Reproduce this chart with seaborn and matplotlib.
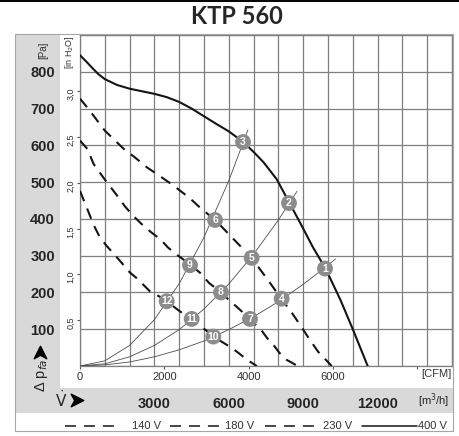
import numpy as np
import pandas as pd
import matplotlib.pyplot as plt
import seaborn as sns
from matplotlib.patches import Rectangle
from matplotlib.lines import Line2D
from matplotlib.path import Path

# Fan curves: flow in m3/h, pressure in Pa
v400_x = [0, 250, 500, 750, 1000, 1500, 2000, 2500, 3000, 3500, 4000, 4500, 5000, 5500, 6000,
          6600, 7000, 7400, 7930, 8450, 8950, 9400, 9900, 10500, 11000, 11600]
v400_y = [845, 828, 810, 793, 780, 764, 754, 747, 740, 731, 718, 700, 679, 658, 638,
          608, 582, 554, 508, 443, 380, 322, 265, 180, 100, 0]

v230_x = [0, 340, 1000, 1800, 2200, 2700, 3100, 3700, 4400, 4850, 5450, 6050, 6920, 7660, 8130, 8550, 8870, 9270, 9600, 10150]
v230_y = [727, 699, 640, 588, 568, 540, 522, 494, 458, 430, 397, 355, 294, 226, 182, 144, 112, 71, 39, 0]

v180_x = [0, 300, 550, 1000, 1500, 1800, 2150, 2500, 2900, 3250, 3550, 3900, 4435, 4850, 5200, 5685, 6000, 6450, 6850, 7350, 7600, 7850, 8050, 8350, 8780]
v180_y = [613, 590, 549, 507, 463, 435, 408, 385, 362, 344, 322, 303, 276, 253, 226, 200, 180, 153, 128, 94, 71, 53, 35, 16, 0]

v140_x = [0, 270, 540, 800, 1080, 1350, 1610, 2000, 2300, 2820, 3230, 3495, 4000, 4502, 5100, 5376, 6100, 6400, 6800, 7130]
v140_y = [476, 431, 385, 350, 326, 306, 286, 255, 238, 203, 188, 176, 150, 126, 96, 80, 50, 35, 14, 0]

# System curves (thin lines from the origin)
sysA_x = [0, 1000, 2000, 3000, 4000, 5000, 6000, 7000, 8000, 9000, 10000, 10300]
sysA_y = [0, 3, 11, 25, 44, 68, 99, 134, 175, 222, 274, 291]
sysB_x = [0, 1000, 2000, 3000, 4000, 5000, 6000, 7000, 8000, 8750]
sysB_y = [0, 6, 25, 56, 99, 155, 223, 304, 397, 475]
sysC_x = [0, 1000, 2000, 3000, 4000, 5000, 6000, 6770]
sysC_y = [0, 14, 56, 126, 224, 350, 504, 642]

# Operating points 1..12
pt_x = [9879, 8427, 6573, 8132, 6922, 5444, 6855, 5685, 4435, 5376, 4502, 3495]
pt_y = [265, 443, 609, 183, 294, 397, 128, 200, 274, 80, 128, 176]
pt_label = ['1', '2', '3', '4', '5', '6', '7', '8', '9', '10', '11', '12']

pa_ticks = [0, 100, 200, 300, 400, 500, 600, 700, 800, 900]
pa_labels = ['', '100', '200', '300', '400', '500', '600', '700', '800', '']
inh2o_ticks = [0.5, 1.0, 1.5, 2.0, 2.5, 3.0]
inh2o_labels = ['0,5', '1,0', '1,5', '2,0', '2,5', '3,0']
m3h_ticks = list(range(0, 15001, 1000))
m3h_labels = [str(t) if (t % 3000 == 0 and 0 < t < 15000) else '' for t in m3h_ticks]
cfm_ticks = [0, 2000, 4000, 6000, 8000]
cfm_labels = ['0', '2000', '4000', '6000', '']

sns.set_style('white')
plt.rcParams['font.family'] = ['Liberation Sans', 'DejaVu Sans']
plt.rcParams['mathtext.fontset'] = 'dejavusans'

W, H = 460, 436
def fx(px):
    return px / W
def fy(py):
    return 1 - py / H

# notched arrow head, pointing right
arrow = Path([(-1, -1), (1, 0), (-1, 1), (-0.45, 0), (-1, -1)],
             [Path.MOVETO, Path.LINETO, Path.LINETO, Path.LINETO, Path.CLOSEPOLY])
arrow_up = Path([(-1, -1), (0, 1), (1, -1), (0, -0.45), (-1, -1)],
                [Path.MOVETO, Path.LINETO, Path.LINETO, Path.LINETO, Path.CLOSEPOLY])

fig = plt.figure(figsize=(4.6, 4.36), dpi=100)

# gray panels
grey = '#d9d9d9'
fig.add_artist(Rectangle((fx(15), fy(413)), fx(60) - fx(15), fy(35) - fy(413),
                         transform=fig.transFigure, facecolor=grey, edgecolor='none', zorder=0))
fig.add_artist(Rectangle((fx(15), fy(413)), fx(453) - fx(15), fy(388) - fy(413),
                         transform=fig.transFigure, facecolor=grey, edgecolor='none', zorder=0))
fig.add_artist(Rectangle((fx(15), fy(431)), fx(453) - fx(15), fy(34) - fy(431),
                         transform=fig.transFigure, fill=False, edgecolor='#a6a6a6', lw=0.8, zorder=1))
fig.add_artist(Line2D([0, 1], [fy(0.8), fy(0.8)], transform=fig.transFigure, color='black', lw=1.4))

ax = fig.add_axes([fx(80), fy(366), fx(452) - fx(80), fy(35) - fy(366)])
ax.set_xlim(0, 15000)
ax.set_ylim(0, 900)

thin = '#4d4d4d'
for xs, ys in [(sysA_x, sysA_y), (sysB_x, sysB_y), (sysC_x, sysC_y)]:
    sns.lineplot(x=xs, y=ys, ax=ax, color=thin, lw=0.6, sort=False, estimator=None, zorder=3)

dash = (0, (5.3, 3.8))
ink = '#151515'
sns.lineplot(x=v140_x, y=v140_y, ax=ax, color=ink, lw=1.5, linestyle=dash, sort=False, estimator=None, zorder=4)
sns.lineplot(x=v180_x, y=v180_y, ax=ax, color=ink, lw=1.5, linestyle=dash, sort=False, estimator=None, zorder=4)
sns.lineplot(x=v230_x, y=v230_y, ax=ax, color=ink, lw=1.5, linestyle=dash, sort=False, estimator=None, zorder=4)
sns.lineplot(x=v400_x, y=v400_y, ax=ax, color=ink, lw=1.5, sort=False, estimator=None, zorder=4)

sns.scatterplot(x=pt_x, y=pt_y, ax=ax, s=130, color='#8c8c8c', edgecolor='none', zorder=5)
for x, y, lab in zip(pt_x, pt_y, pt_label):
    ax.text(x, y, lab, ha='center', va='center', color='white', fontsize=7.5,
            fontweight='bold', zorder=6)

ax.set_xticks(m3h_ticks, m3h_labels)
ax.set_yticks(pa_ticks, pa_labels)
ax.grid(True, color='#7f7f7f', lw=0.9)
ax.tick_params(axis='x', length=0, pad=22, labelsize=10.5)
ax.tick_params(axis='y', length=0, pad=18, labelsize=10.5)
for lab in ax.get_xticklabels() + ax.get_yticklabels():
    lab.set_fontweight('bold')
for sp in ax.spines.values():
    sp.set_color('#7f7f7f')
    sp.set_linewidth(0.9)

cfm = ax.secondary_xaxis('bottom', functions=(lambda v: v / 1.699, lambda c: c * 1.699))
cfm.set_xticks(cfm_ticks, cfm_labels)
cfm.tick_params(length=2.5, width=0.8, color='#555555', pad=2, labelsize=8, labelcolor='#333333')
cfm.spines['bottom'].set_visible(False)

inh = ax.secondary_yaxis('left', functions=(lambda p: p / 249.09, lambda h: h * 249.09))
inh.set_yticks(inh2o_ticks, inh2o_labels)
inh.tick_params(length=2, width=0.8, color='#555555', pad=1.5, labelsize=6.5,
                labelrotation=90, labelcolor='#333333')
inh.spines['left'].set_visible(False)

# figure texts
fig.text(fx(237), fy(17), 'KTP 560', ha='center', va='center', fontsize=17,
         fontweight='bold', family=['Lato', 'DejaVu Sans'])
fig.text(fx(43), fy(50), '[Pa]', rotation=90, ha='center', va='center', fontsize=7, color='#333333')
fig.text(fx(70), fy(52), '[in H$_2$O]', rotation=90, ha='center', va='center', fontsize=6.5, color='#333333')
fig.text(fx(42), fy(375), 'Δ p$_{fa}$', rotation=90, ha='center', va='center', fontsize=10.5)
fig.add_artist(Line2D([fx(40)], [fy(352)], transform=fig.transFigure, marker=arrow_up,
                      markersize=9, color='black', linestyle='none'))
fig.text(fx(55), fy(400), r'$\dot{\mathrm{V}}$', ha='left', va='center', fontsize=11)
fig.add_artist(Line2D([fx(77)], [fy(400)], transform=fig.transFigure, marker=arrow,
                      markersize=9, color='black', linestyle='none'))
fig.text(fx(449), fy(401), '[m$^3$/h]', ha='right', va='center', fontsize=8)
fig.text(fx(452), fy(374), '[CFM]', ha='right', va='center', fontsize=8, color='#333333')

# legend row
leg = [(65, 116, (0, (7.2, 5.2)), '140 V', 132),
       (170, 223, (0, (7.2, 5.2)), '180 V', 225),
       (265, 320, (0, (7.2, 5.2)), '230 V', 323),
       (362, 417, '-', '400 V', 418)]
for x0, x1, ls, txt, tx in leg:
    fig.add_artist(Line2D([fx(x0), fx(x1)], [fy(426), fy(426)], transform=fig.transFigure,
                          color=ink, lw=1.1, linestyle=ls))
    fig.text(fx(tx), fy(426), txt, ha='left', va='center', fontsize=8, color='#333333')

fig.savefig('out.png', dpi=100)
